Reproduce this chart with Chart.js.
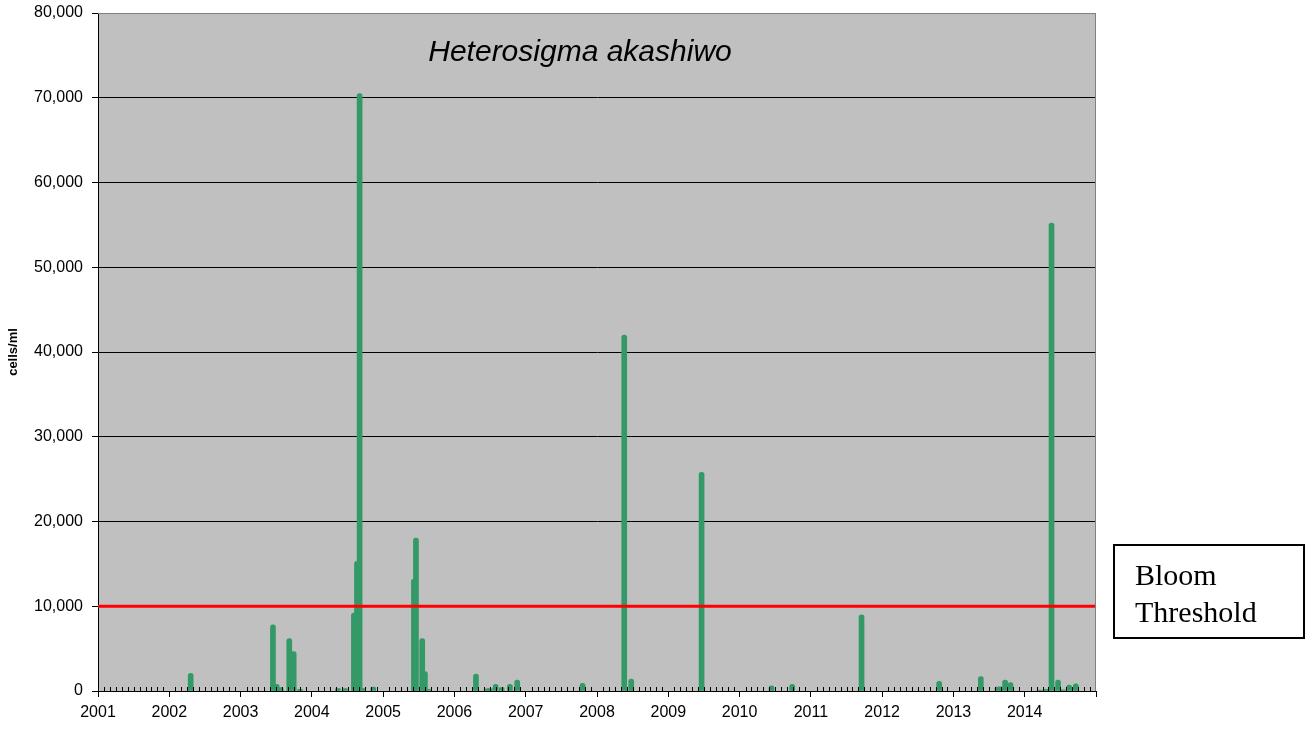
<!DOCTYPE html>
<html>
<head>
<meta charset="utf-8">
<style>
  html, body { margin: 0; padding: 0; background: #fff; }
  #wrap { position: relative; width: 1311px; height: 730px; }
  #note {
    position: absolute; left: 1113px; top: 544px; width: 188px; height: 91px;
    border: 2px solid #000; box-sizing: content-box;
    font-family: "Liberation Serif", "Times New Roman", serif; font-size: 30px; line-height: 37px;
    padding: 0; color: #000;
  }
  #note span { display: block; padding-left: 20px; }
</style>
<script src="https://cdn.jsdelivr.net/npm/chart.js@4"></script>
</head>
<body>
<div id="wrap">
  <canvas id="c" width="1311" height="730"></canvas>
  <div id="note"><span style="margin-top:10px">Bloom</span><span>Threshold</span></div>
</div>
<script>
"use strict";

// sample dates as decimal years, counts in cells/ml
const sampleDates = [
  2002.300, 2003.454, 2003.506, 2003.562, 2003.683, 2003.745, 2003.833,
  2004.366, 2004.464, 2004.590, 2004.633, 2004.670, 2004.720, 2004.861,
  2005.432, 2005.460, 2005.548, 2005.586, 2005.628,
  2006.302, 2006.452, 2006.498, 2006.578, 2006.662, 2006.778, 2006.881,
  2007.798, 2008.382, 2008.480, 2009.467,
  2010.449, 2010.738, 2011.711, 2012.800,
  2013.384, 2013.619, 2013.657, 2013.725, 2013.801,
  2014.212, 2014.306, 2014.376, 2014.468, 2014.534, 2014.623, 2014.717,
];
const cellCounts = [
  2090, 7800, 800, 400, 6200, 4650, 200,
  300, 300, 9200, 15300, 70500, 300, 450,
  13200, 18050, 6200, 2300, 200,
  2000, 250, 300, 800, 400, 800, 1300,
  900, 42000, 1400, 25800,
  600, 800, 9000, 1150,
  1700, 450, 500, 1300, 1000,
  100, 200, 55200, 1300, 150, 700, 850,
];
const bloomThreshold = 10000;
const yearRange = [2001, 2015];
const speciesName = "Heterosigma akashiwo";

const GREEN = "#339966";
const FONT = "'Liberation Sans', Arial, sans-serif";

const $ = (id) => document.getElementById(id);

const plotDecor = {
  id: "plotDecor",
  beforeDraw(chart) {
    const { ctx, chartArea: a } = chart;
    ctx.save();
    ctx.fillStyle = "#c0c0c0";
    ctx.fillRect(a.left, a.top, a.right - a.left, a.bottom - a.top);
    ctx.restore();
  },
  afterDraw(chart) {
    const { ctx, chartArea: a } = chart;
    const x = chart.scales.x;
    ctx.save();
    // grey frame on top and right
    ctx.strokeStyle = "#808080";
    ctx.lineWidth = 1;
    ctx.beginPath();
    ctx.moveTo(a.left, a.top + 0.5);
    ctx.lineTo(a.right - 0.5, a.top + 0.5);
    ctx.lineTo(a.right - 0.5, a.bottom);
    ctx.stroke();
    // monthly minor ticks, inside
    ctx.strokeStyle = "#000";
    ctx.beginPath();
    for (let y = yearRange[0]; y < yearRange[1]; y++) {
      for (let m = 1; m < 12; m++) {
        const px = Math.round(x.getPixelForValue(y + m / 12)) + 0.5;
        ctx.moveTo(px, a.bottom - 4);
        ctx.lineTo(px, a.bottom);
      }
    }
    ctx.stroke();
    // species title
    ctx.fillStyle = "#000";
    ctx.font = "italic 30px " + FONT;
    ctx.textAlign = "center";
    ctx.textBaseline = "alphabetic";
    ctx.fillText(speciesName, a.left + 482, a.top + 48);
    ctx.restore();
  },
};

new Chart($("c"), {
  type: "bar",
  data: {
    datasets: [
      {
        type: "line",
        label: "Bloom Threshold",
        data: yearRange.map((yr) => ({ x: yr, y: bloomThreshold })),
        borderColor: "#ff0000",
        borderWidth: 3,
        pointRadius: 0,
        order: 0,
      },
      {
        label: speciesName,
        data: sampleDates.map((d, i) => ({ x: d, y: cellCounts[i] })),
        backgroundColor: GREEN,
        borderWidth: 0,
        barThickness: 5,
        borderRadius: 2.5,
        order: 1,
      },
    ],
  },
  options: {
    responsive: false,
    animation: false,
    layout: { padding: { top: 13, right: 215, bottom: 0, left: 0 } },
    plugins: { legend: { display: false }, tooltip: { enabled: false } },
    scales: {
      x: {
        type: "linear",
        offset: false,
        min: yearRange[0],
        max: yearRange[1],
        afterFit: (s) => { s.height = 39; s.paddingRight = 0; },
        border: { color: "#000", width: 1 },
        grid: { drawOnChartArea: false, offset: false, tickLength: 6, color: "#000" },
        ticks: {
          stepSize: 1,
          autoSkip: false,
          maxRotation: 0,
          padding: 6,
          color: "#000",
          font: { family: FONT, size: 16 },
          callback: (v) => (v < yearRange[1] ? String(v) : ""),
        },
      },
      y: {
        min: 0,
        max: 80000,
        afterFit: (s) => { s.width = 98; s.paddingTop = 0; s.paddingBottom = 0; },
        border: { color: "#000", width: 1 },
        grid: {
          color: (c) => (c.tick && c.tick.value === 80000 ? "#808080" : "#000"),
          tickColor: "#000",
          tickLength: 6,
        },
        ticks: {
          stepSize: 10000,
          padding: 9,
          color: "#000",
          font: { family: FONT, size: 16 },
          callback: (v) => v.toLocaleString("en-US"),
        },
        title: {
          display: true,
          text: "cells/ml",
          color: "#000",
          padding: { top: 6, bottom: 0 },
          font: { family: FONT, size: 13, weight: "bold" },
        },
      },
    },
  },
  plugins: [plotDecor],
});
</script>
</body>
</html>
